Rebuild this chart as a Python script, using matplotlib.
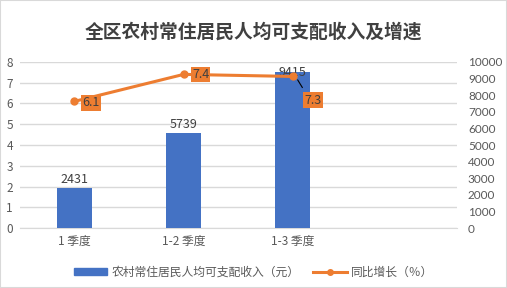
import matplotlib
matplotlib.use("Agg")
import matplotlib.pyplot as plt
from matplotlib.patches import Rectangle
from matplotlib.lines import Line2D

plt.rcParams['font.family'] = ['Noto Sans CJK SC', 'DejaVu Sans']

categories = ["1 季度", "1-2 季度", "1-3 季度", ""]
income = [2431, 5739, 9415]
growth = [6.1, 7.4, 7.3]
income_labels = ["2431", "5739", "9415"]
growth_labels = ["6.1", "7.4", "7.3"]

blue = "#4472C4"
orange = "#ED7D31"
gray = "#595959"

fig = plt.figure(figsize=(5.07, 2.88), dpi=100)
fig.patches.append(Rectangle((0, 0), 1, 1, transform=fig.transFigure,
                             fill=False, edgecolor="#D9D9D9", linewidth=1.5))

ax = fig.add_axes([0.039, 0.208, 0.862, 0.577])
ax2 = ax.twinx()

x = list(range(len(income)))
ax.set_xlim(-0.5, len(categories) - 0.5)
ax.set_ylim(0, 8)
ax2.set_ylim(0, 10000)
ax.set_yticks(range(0, 9))
ax2.set_yticks(range(0, 10001, 1000))
ax.set_xticks(range(len(categories)))
ax.set_xticklabels(categories)

ax.grid(axis='y', color="#D9D9D9", linewidth=1)
ax.set_axisbelow(True)
for a in (ax, ax2):
    for s in a.spines.values():
        s.set_visible(False)
    a.tick_params(length=0, labelsize=8.5, colors=gray)
ax.spines['bottom'].set_visible(True)
ax.spines['bottom'].set_color("#D9D9D9")
ax.tick_params(axis='y', pad=5)
ax.tick_params(axis='x', pad=5)
ax2.tick_params(axis='y', pad=8)
for t in ax2.get_yticklabels():
    t.set_family(['Lato', 'DejaVu Sans'])

ax2.bar(x, income, width=0.32, color=blue, zorder=2)
bar_label_offsets = [1, 1, -5]
for xi, v, lab, dy in zip(x, income, income_labels, bar_label_offsets):
    ax2.annotate(lab, (xi, v), xytext=(0, dy), textcoords='offset points',
                 ha='center', va='bottom', fontsize=9, color="#404040")

ax3 = ax.twinx()
ax3.set_ylim(0, 8)
ax3.axis('off')
ax3.plot(x, growth, color=orange, linewidth=2.2, marker='o', markersize=5, zorder=5)

offsets = [(6, -1), (6, 0), (8, -17)]
for xi, v, lab, off in zip(x, growth, growth_labels, offsets):
    ax3.annotate(lab, (xi, v), xytext=off, textcoords='offset points',
                 ha='left', va='center', fontsize=9, color="#404040", zorder=10,
                 bbox=dict(boxstyle='square,pad=0.1', facecolor=orange, edgecolor='none'))
ax3.annotate("", (x[2] + 0.03, growth[2] - 0.05), xytext=(x[2] + 0.1, growth[2] - 0.65),
             arrowprops=dict(arrowstyle='-', color='black', linewidth=0.8))

fig.text(0.5, 0.89, "全区农村常住居民人均可支配收入及增速", ha='center', va='center',
         fontsize=13.5, fontweight='bold', color="#404040")

handles = [Rectangle((0, 0), 1, 1, color=blue),
           Line2D([0], [0], color=orange, linewidth=2.2, marker='o', markersize=4)]
leg = fig.legend(handles, ["农村常住居民人均可支配收入（元）", "同比增长（％）"],
                 loc='center', bbox_to_anchor=(0.5, 0.055), ncol=2, frameon=False,
                 fontsize=8.5, handlelength=2.8, handleheight=0.6, columnspacing=1.2,
                 handletextpad=0.4)
for t in leg.get_texts():
    t.set_color(gray)

fig.savefig("out.png", dpi=100)
